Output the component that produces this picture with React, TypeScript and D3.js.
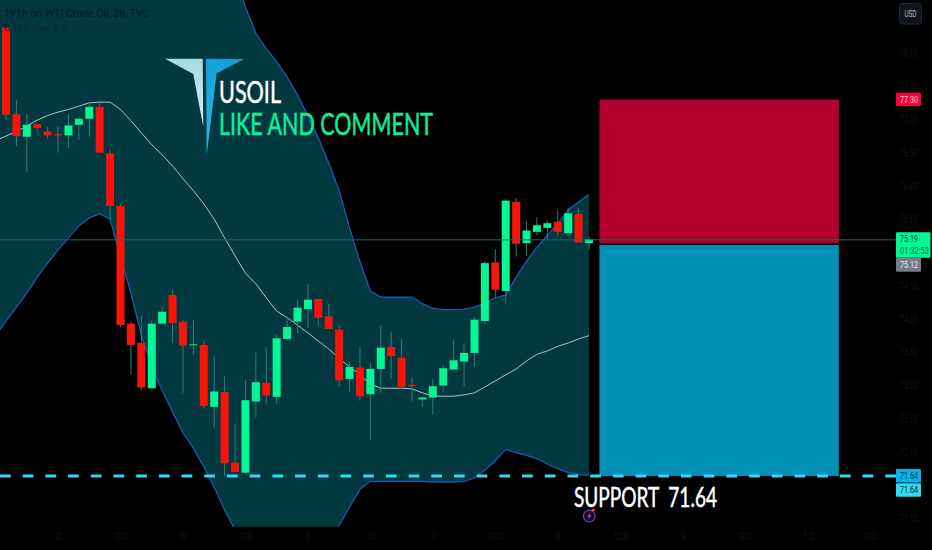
import * as d3 from "d3";
import { useEffect, useRef } from "react";

const WIDTH = 932;
const HEIGHT = 550;

// candles
const opens = [78.38, 77.08, 76.74, 76.93, 76.82, 76.78, 76.76, 76.92, 77.01, 77.19, 76.49, 75.7, 73.93, 73.64, 72.96, 73.93, 74.36, 73.96, 73.61, 73.61, 72.68, 72.9, 71.84, 71.69, 72.76, 73.04, 72.83, 73.7, 73.96, 74.15, 74.3, 74.04, 73.84, 73.1, 73.27, 72.87, 73.25, 73.58, 73.42, 73.01, 72.79, 72.82, 73.0, 73.24, 73.36, 73.49, 73.97, 74.85, 74.42, 75.76, 75.14, 75.31, 75.37, 75.46, 75.29, 75.58, 75.14];
const highs = [78.38, 77.29, 77.08, 76.93, 76.89, 76.89, 77.08, 77.01, 77.23, 77.25, 76.54, 75.73, 73.96, 74.05, 73.99, 74.19, 74.44, 73.99, 73.99, 73.66, 73.44, 73.14, 72.42, 73.08, 73.5, 73.58, 73.76, 74.05, 74.29, 74.53, 74.3, 74.23, 73.91, 73.35, 73.58, 73.34, 73.91, 73.81, 73.7, 73.13, 72.83, 73.1, 73.31, 73.69, 73.64, 74.03, 74.86, 75.05, 75.79, 75.82, 75.47, 75.53, 75.48, 75.63, 75.67, 75.67, 75.23];
const lows = [76.99, 76.6, 76.21, 76.81, 76.71, 76.5, 76.57, 76.69, 76.74, 76.5, 75.49, 73.88, 73.16, 72.93, 72.96, 73.93, 73.64, 72.89, 73.47, 72.66, 72.37, 71.64, 71.7, 71.67, 72.52, 72.71, 72.72, 73.7, 73.79, 73.87, 73.89, 73.85, 72.98, 72.91, 72.77, 72.18, 72.89, 73.11, 72.98, 72.77, 72.68, 72.56, 72.9, 73.24, 72.99, 73.28, 73.92, 74.32, 74.23, 74.94, 74.95, 75.26, 75.2, 75.25, 75.29, 75.15, 75.05];
const closes = [77.07, 76.75, 76.92, 76.87, 76.76, 76.76, 76.91, 77.01, 77.19, 76.5, 75.7, 73.91, 73.61, 72.97, 73.93, 74.11, 73.94, 73.6, 73.62, 72.69, 72.91, 71.83, 71.7, 72.78, 73.05, 72.85, 73.71, 73.88, 74.17, 74.29, 74.02, 73.85, 73.08, 73.28, 72.84, 73.25, 73.57, 73.44, 72.98, 72.99, 72.82, 72.99, 73.26, 73.38, 73.49, 73.99, 74.84, 74.44, 75.78, 75.13, 75.33, 75.41, 75.44, 75.31, 75.59, 75.15, 75.2];

// bollinger bands, first value is the bar just off the left edge
const upperBand = [79.9, 79.9, 79.9, 79.9, 79.85, 79.85, 79.8, 79.8, 79.8, 79.8, 79.9, 80.0, 80.2, 80.4, 80.6, 80.8, 81.0, 81.1, 81.0, 80.8, 80.5, 80.1, 79.6, 79.15, 78.69, 78.3, 78.06, 77.87, 77.64, 77.37, 77.05, 76.72, 76.35, 75.93, 75.37, 74.86, 74.42, 74.33, 74.33, 74.33, 74.33, 74.23, 74.16, 74.14, 74.14, 74.15, 74.18, 74.24, 74.32, 74.36, 74.63, 74.87, 75.08, 75.26, 75.43, 75.64, 75.76, 75.87];
const basisBand = [76.68, 76.75, 76.82, 76.9, 76.99, 77.06, 77.11, 77.15, 77.2, 77.25, 77.26, 77.26, 77.15, 76.98, 76.8, 76.62, 76.47, 76.3, 76.11, 75.93, 75.73, 75.5, 75.22, 74.95, 74.69, 74.53, 74.32, 74.12, 74.02, 73.91, 73.79, 73.67, 73.55, 73.41, 73.28, 73.16, 73.02, 72.96, 72.96, 72.96, 72.95, 72.89, 72.84, 72.84, 72.84, 72.86, 72.89, 72.98, 73.07, 73.16, 73.25, 73.37, 73.47, 73.52, 73.59, 73.64, 73.7, 73.75];
const lowerBand = [73.75, 73.97, 74.18, 74.39, 74.63, 74.84, 75.04, 75.22, 75.4, 75.52, 75.58, 75.5, 74.93, 74.39, 73.76, 73.28, 72.93, 72.6, 72.29, 72.06, 71.78, 71.47, 71.13, 70.83, 70.6, 70.38, 70.23, 70.15, 70.15, 70.23, 70.35, 70.5, 70.68, 70.9, 71.17, 71.44, 71.56, 71.56, 71.56, 71.56, 71.56, 71.56, 71.55, 71.55, 71.55, 71.56, 71.61, 71.73, 71.87, 72.04, 71.99, 71.95, 71.9, 71.82, 71.75, 71.69, 71.66, 71.65];

// 75.00 and 71.50 sit under the price tags in the reference
const priceTicks = [78, 77.5, 77, 76.5, 76, 75.5, 74.5, 74, 73.5, 73, 72.5, 72, 71];
const timeTicks = [5, 11, 17, 23, 29, 35, 41, 47, 53, 59, 65, 71, 77, 83];
const timeLabels = ["2", "12:00", "9", "12:00", "6", "12:00", "7", "12:00", "2", "12:00", "9", "12:00", "12", "12:00"];

const stopPrice = 77.3;
const entryPrice = 75.12;
const lastPrice = 75.19;
const supportPrice = 71.64;
const boxStartBar = 57;
const boxEndBar = 80;

const SANS = "Lato, 'Noto Sans', sans-serif";
const AXIS_INK = "#121212";

export default function App() {
  const ref = useRef<SVGSVGElement>(null);

  useEffect(() => {
    const svg = d3.select(ref.current);
    svg.selectAll("*").remove();

    const x = d3.scaleLinear().domain([0, 56]).range([6, 589]);
    const y = d3.scaleLinear().domain([supportPrice, stopPrice]).range([476, 99.5]);
    const barIdx = d3.range(opens.length);

    const defs = svg.append("defs");
    defs
      .append("clipPath")
      .attr("id", "pane")
      .append("rect")
      .attr("width", 896)
      .attr("height", 526.7);
    const lg1 = defs.append("linearGradient").attr("id", "logoL").attr("x1", 0).attr("x2", 0).attr("y1", 0).attr("y2", 1);
    lg1.append("stop").attr("offset", 0).attr("stop-color", "#a5dbe6");
    lg1.append("stop").attr("offset", 1).attr("stop-color", "#d3eef2");
    const lg2 = defs.append("linearGradient").attr("id", "logoR").attr("x1", 0).attr("x2", 0).attr("y1", 0).attr("y2", 1);
    lg2.append("stop").attr("offset", 0).attr("stop-color", "#12a0d8");
    lg2.append("stop").attr("offset", 1).attr("stop-color", "#2cb8e6");

    svg.append("rect").attr("width", WIDTH).attr("height", HEIGHT).attr("fill", "#000");

    const pane = svg.append("g").attr("clip-path", "url(#pane)");

    // band fill and lines, the arrays start one bar before the candles
    const area = d3
      .area<number>()
      .x((_, i) => x(i - 1))
      .y0((_, i) => y(lowerBand[i]))
      .y1((d) => y(d));
    pane.append("path").attr("d", area(upperBand)).attr("fill", "#02383f");

    const line = d3.line<number>().x((_, i) => x(i - 1)).y((d) => y(d));
    pane.append("path").attr("d", line(upperBand)).attr("fill", "none").attr("stroke", "#1f57b4").attr("stroke-width", 1.3);
    pane.append("path").attr("d", line(lowerBand)).attr("fill", "none").attr("stroke", "#1f57b4").attr("stroke-width", 1.3);
    pane.append("path").attr("d", line(basisBand)).attr("fill", "none").attr("stroke", "#a9c6c8").attr("stroke-width", 1);

    // last price line
    svg
      .append("line")
      .attr("x1", 0)
      .attr("x2", 896)
      .attr("y1", y(lastPrice))
      .attr("y2", y(lastPrice))
      .attr("stroke", "#1c6a5c")
      .attr("stroke-width", 1);

    // position boxes
    pane
      .append("rect")
      .attr("x", x(boxStartBar))
      .attr("width", x(boxEndBar) - x(boxStartBar))
      .attr("y", y(stopPrice))
      .attr("height", y(entryPrice) - y(stopPrice) - 1)
      .attr("fill", "#b2002f");
    pane
      .append("rect")
      .attr("x", x(boxStartBar))
      .attr("width", x(boxEndBar) - x(boxStartBar))
      .attr("y", y(entryPrice) + 0.5)
      .attr("height", y(supportPrice) - y(entryPrice) - 0.5)
      .attr("fill", "#0090b6");

    // candles
    const candle = pane.selectAll("g.candle").data(barIdx).enter().append("g").attr("class", "candle");
    candle
      .append("line")
      .attr("x1", (i) => x(i))
      .attr("x2", (i) => x(i))
      .attr("y1", (i) => y(highs[i]))
      .attr("y2", (i) => y(lows[i]))
      .attr("stroke", "#2a8078")
      .attr("stroke-width", 1);
    candle
      .append("rect")
      .attr("x", (i) => x(i) - 4)
      .attr("width", 8)
      .attr("y", (i) => y(Math.max(opens[i], closes[i])))
      .attr("height", (i) => Math.max(1, Math.abs(y(opens[i]) - y(closes[i]))))
      .attr("fill", (i) => (closes[i] >= opens[i] ? "#06f595" : "#f7150a"));

    // support line
    svg
      .append("line")
      .attr("x1", 0)
      .attr("x2", 896)
      .attr("y1", y(supportPrice))
      .attr("y2", y(supportPrice))
      .attr("stroke", "#35d8f2")
      .attr("stroke-width", 2.8)
      .attr("stroke-dasharray", "10.7 12");

    // axes, the labels are almost black in the reference
    const axisR = svg
      .append("g")
      .attr("transform", "translate(896,0)")
      .call(d3.axisRight(y).tickValues(priceTicks).tickSize(0).tickPadding(4).tickFormat((d) => (d as number).toFixed(2)));
    axisR.select(".domain").remove();
    axisR
      .selectAll("text")
      .attr("fill", AXIS_INK)
      .attr("font-size", 10.5)
      .attr("font-family", "Roboto, sans-serif")
      .attr("textLength", 18)
      .attr("lengthAdjust", "spacingAndGlyphs");

    const axisB = svg
      .append("g")
      .attr("transform", "translate(0,533)")
      .call(
        d3
          .axisBottom(x)
          .tickValues(timeTicks)
          .tickSize(0)
          .tickPadding(0)
          .tickFormat((_, i) => timeLabels[i])
      );
    axisB.select(".domain").remove();
    axisB
      .selectAll("text")
      .attr("fill", AXIS_INK)
      .attr("font-size", 10.5)
      .attr("font-family", "Roboto, sans-serif");
    axisB
      .selectAll<SVGTextElement, number>("text")
      .filter((_, i) => timeLabels[i].length > 2)
      .attr("textLength", 15)
      .attr("lengthAdjust", "spacingAndGlyphs");

    // price labels
    const tag = (top: number, h: number, w: number, fill: string) =>
      svg.append("rect").attr("x", 896).attr("y", top).attr("width", w).attr("height", h).attr("fill", fill).attr("rx", 1);
    const tagText = (txt: string, cy: number, fill: string, len = 18) =>
      svg
        .append("text")
        .attr("x", 900)
        .attr("y", cy)
        .attr("dy", "0.35em")
        .attr("fill", fill)
        .attr("font-size", 9.5)
        .attr("font-family", "Roboto, sans-serif")
        .attr("textLength", len)
        .attr("lengthAdjust", "spacingAndGlyphs")
        .text(txt);

    tag(y(stopPrice) - 6.8, 13.4, 25, "#f7003c");
    tagText(stopPrice.toFixed(2), y(stopPrice), "#ffd0dc");
    tag(232.3, 25.4, 34.5, "#00f996");
    tagText(lastPrice.toFixed(2), 239, "#04382a");
    tagText("01:32:53", 251, "#04603f", 29);
    tag(257.7, 14, 25, "#787b86");
    tagText(entryPrice.toFixed(2), 264.7, "#e6e6e6");
    tag(469, 13.4, 25, "#00b4ee");
    tagText(supportPrice.toFixed(2), 475.8, "#03222c");
    tag(483.3, 13.4, 25, "#2cdcf2");
    tagText(supportPrice.toFixed(2), 490, "#03222c");

    // currency button
    svg
      .append("rect")
      .attr("x", 899.5)
      .attr("y", 3.5)
      .attr("width", 22)
      .attr("height", 20.5)
      .attr("rx", 3)
      .attr("fill", "#10151b")
      .attr("stroke", "#262b31");
    svg
      .append("text")
      .attr("x", 910.5)
      .attr("y", 14)
      .attr("dy", "0.35em")
      .attr("text-anchor", "middle")
      .attr("fill", "#b5b8bd")
      .attr("font-size", 9)
      .attr("font-family", "Roboto, sans-serif")
      .attr("textLength", 12)
      .attr("lengthAdjust", "spacingAndGlyphs")
      .text("USD");

    // legend, dark on the band
    svg
      .append("text")
      .attr("x", 4)
      .attr("y", 17)
      .attr("fill", "#081a1f")
      .attr("font-size", 10.5)
      .attr("font-family", "Roboto, sans-serif")
      .text("1Y1h on WTI Crude Oil, 2h, TVC");
    svg
      .append("text")
      .attr("x", 4)
      .attr("y", 31)
      .attr("fill", "#0c272d")
      .attr("font-size", 9.5)
      .attr("font-family", "Roboto, sans-serif")
      .text("B  155, Day, 2, 0");

    // logo
    svg.append("polygon").attr("points", "165,58.7 202.7,58.7 203.3,127 193.3,74").attr("fill", "url(#logoL)");
    svg.append("polygon").attr("points", "206,58.7 244.3,59 216.7,73.3 206.7,155").attr("fill", "url(#logoR)");

    // headline texts
    const headline = (txt: string, tx: number, ty: number, size: number, fill: string, len: number) =>
      svg
        .append("text")
        .attr("x", tx)
        .attr("y", ty)
        .attr("fill", fill)
        .attr("stroke", fill)
        .attr("stroke-width", 0.5)
        .attr("font-size", size)
        .attr("font-family", SANS)
        .attr("textLength", len)
        .attr("lengthAdjust", "spacingAndGlyphs")
        .text(txt);
    headline("USOIL", 219, 103.3, 30, "#ffffff", 62);
    headline("LIKE AND COMMENT", 219, 135, 31, "#0cf09a", 214);
    headline("SUPPORT  71.64", 574, 506.7, 26, "#ffffff", 143).attr("xml:space", "preserve").style("white-space", "pre");

    // idea badge
    svg
      .append("circle")
      .attr("cx", 589.3)
      .attr("cy", 516)
      .attr("r", 5.8)
      .attr("fill", "#16071f")
      .attr("stroke", "#7a3fa8")
      .attr("stroke-width", 1.3);
    svg.append("polygon").attr("points", "590.5,511.5 587,516.8 589.2,516.8 588,520.5 591.6,515 589.4,515").attr("fill", "#8a4fba");
    svg.append("circle").attr("cx", 593.3).attr("cy", 510).attr("r", 1.6).attr("fill", "#ff3050");
  }, []);

  return <svg ref={ref} width={WIDTH} height={HEIGHT} style={{ position: "absolute", left: 0, top: 0, display: "block" }} />;
}
